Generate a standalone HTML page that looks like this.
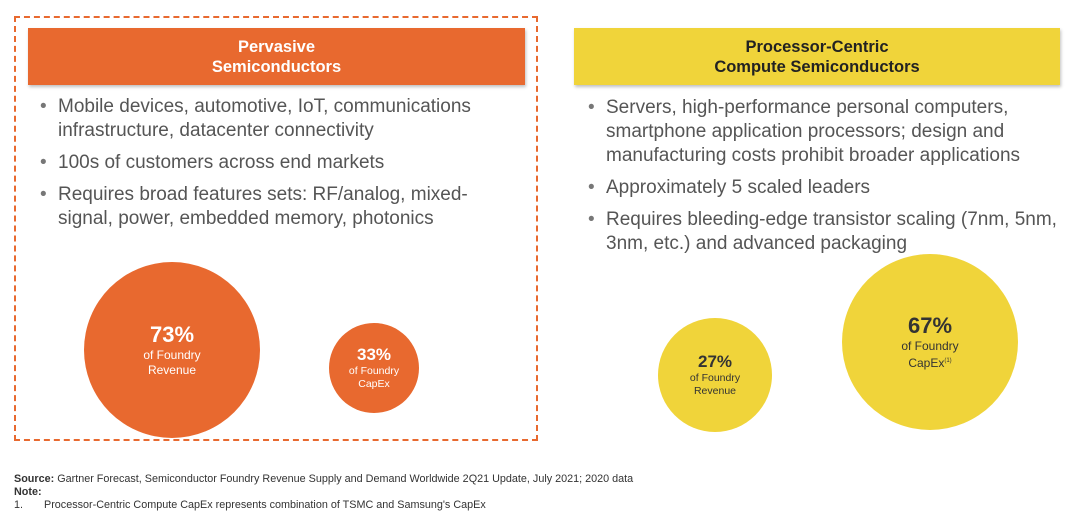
<!DOCTYPE html>
<html><head><meta charset="utf-8">
<style>
body{margin:0;width:1080px;height:523px;background:#fff;font-family:"Liberation Sans",sans-serif;position:relative;overflow:hidden}
.abs{position:absolute}
.hdr{position:absolute;top:28px;height:57px;display:flex;align-items:center;justify-content:center;text-align:center;font-weight:bold;font-size:16.5px;line-height:20px;box-shadow:1px 2px 3px rgba(0,0,0,.25)}
ul{position:absolute;margin:0;padding:0;list-style:none;color:#555;font-size:19px;line-height:24px}
li{position:relative;padding-left:22px;margin-bottom:8px}
li:before{content:"•";position:absolute;left:4px;color:#777}
.circ{position:absolute;border-radius:50%;display:flex;flex-direction:column;align-items:center;justify-content:center;text-align:center}
.foot{position:absolute;left:14px;font-size:10.8px;color:#333;white-space:nowrap}
</style></head><body>
<div class="abs" style="left:14px;top:16px;width:520px;height:421px;border:2px dashed #e8692f"></div>
<div class="hdr" style="left:28px;width:497px;background:#e8692f;color:#fff">Pervasive<br>Semiconductors</div>
<div class="hdr" style="left:574px;width:486px;background:#f0d43a;color:#222">Processor-Centric<br>Compute Semiconductors</div>
<ul style="left:36px;top:95px;width:470px">
<li>Mobile devices, automotive, IoT, communications infrastructure, datacenter connectivity</li>
<li>100s of customers across end markets</li>
<li>Requires broad features sets: RF/analog, mixed-signal, power, embedded memory, photonics</li>
</ul>
<ul style="left:584px;top:96px;width:490px">
<li>Servers, high-performance personal computers, smartphone application processors; design and manufacturing costs prohibit broader applications</li>
<li>Approximately 5 scaled leaders</li>
<li>Requires bleeding-edge transistor scaling (7nm, 5nm, 3nm, etc.) and advanced packaging</li>
</ul>
<div id="circles"></div>
<div class="foot" style="top:473px"><b>Source:</b> Gartner Forecast, Semiconductor Foundry Revenue Supply and Demand Worldwide 2Q21 Update, July 2021; 2020 data</div>
<div class="foot" style="top:486px;font-weight:bold">Note:</div>
<div class="foot" style="top:499px">1.&nbsp;&nbsp;&nbsp;&nbsp;&nbsp;&nbsp;&nbsp;Processor-Centric Compute CapEx represents combination of TSMC and Samsung's CapEx</div>
<script>
const values=[73,33,27,67];
const labels=["of Foundry Revenue","of Foundry CapEx","of Foundry Revenue","of Foundry CapEx"];
const names=["pervasive-revenue-circle","pervasive-capex-circle","processor-revenue-circle","processor-capex-circle"];
const cx=[172,374,715,930],cy=[350,368,375,342],rad=[88,45,57,88];
const colors=["#e8692f","#e8692f","#f0d43a","#f0d43a"];
const root=document.getElementById('circles');
values.forEach((v,i)=>{
 const d=document.createElement('div');
 d.className='circ';
 
 
 const r=rad[i];
 d.style.left=(cx[i]-r)+'px';d.style.top=(cy[i]-r)+'px';d.style.width=2*r+'px';d.style.height=2*r+'px';
 d.style.background=colors[i];
 const fc=i<2?'#fff':'#333';
 const big=r>70?22:17, small=r>70?12:10.5;
 const lbl=labels[i].replace('of Foundry ','of Foundry<br>')+(i==3?'<sup style="font-size:6px">(1)</sup>':'');
 d.innerHTML='<div style="font-weight:bold;font-size:'+big+'px;color:'+fc+'">'+v+'%</div><div style="font-size:'+small+'px;line-height:'+(small+3)+'px;color:'+fc+'">'+lbl+'</div>';
 root.appendChild(d);
});
</script>
</body></html>
